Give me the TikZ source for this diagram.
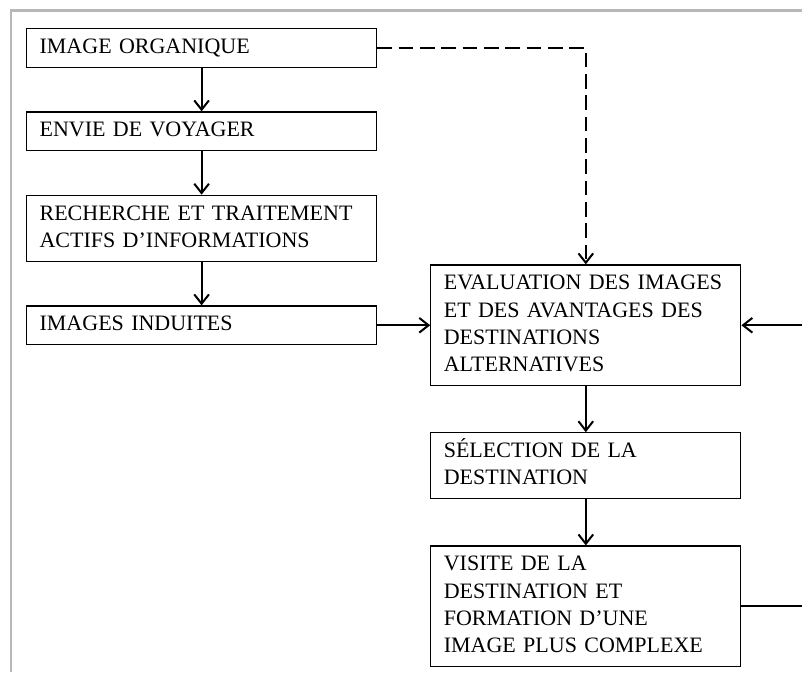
\documentclass[tikz,border=0pt]{standalone}
\usepackage{fontspec}
\setmainfont{Liberation Serif}
\usetikzlibrary{positioning, arrows.meta}
\definecolor{gris}{RGB}{185,182,182}

\begin{document}
\begin{tikzpicture}[
x=0.75pt, y=-0.75pt,
node distance=32.6pt and 39.75pt,
bloc/.style={rectangle, draw=black, line width=0.9pt, inner xsep=9.75pt, inner ysep=4.25pt, align=left, font=\fontsize{16.5}{20.5}\selectfont, execute at begin node=\strut, execute at end node=\strut},
bloc_gauche/.style={bloc, text width=243pt},
bloc_droit/.style={bloc, text width=213pt},
fleche/.style={-{Straight Barb[length=7pt, width=11pt]}, line width=1.5pt},
]
\useasboundingbox (0,0) rectangle (802,672);
\clip (0,0) rectangle (802,672);
\draw[gris, line width=2pt] (11,672) -- (11,10.5) -- (802,10.5);

%Nodes
\node[bloc_gauche, anchor=north west] (image_organique)  at (26,28)  {IMAGE ORGANIQUE};
\node[bloc_gauche]     (envie_voyager)    [below=of image_organique] {ENVIE DE VOYAGER};
\node[bloc_gauche]     (recherche)        [below=of envie_voyager]   {RECHERCHE ET TRAITEMENT\\ACTIFS D’INFORMATIONS};
\node[bloc_gauche]     (images_induites)  [below=of recherche]       {IMAGES INDUITES};

\node[bloc_droit]      (evaluation)       [right=of images_induites] {EVALUATION DES IMAGES\\ET DES AVANTAGES DES\\DESTINATIONS\\ALTERNATIVES};
\node[bloc_droit]      (selection)        [below=34.5pt of evaluation] {SÉLECTION DE LA\\DESTINATION};
\node[bloc_droit]      (visite)           [below=34.5pt of selection]  {VISITE DE LA\\DESTINATION ET\\FORMATION D’UNE\\IMAGE PLUS COMPLEXE};

\coordinate (bord) at (812,0);

%Lines
\draw[fleche] (image_organique) -- (envie_voyager);
\draw[fleche] (envie_voyager) -- (recherche);
\draw[fleche] (recherche) -- (images_induites);
\draw[fleche, dash pattern=on 11pt off 5pt] (image_organique.east) -| (evaluation.north);
\draw[fleche] (images_induites) -- (evaluation);
\draw[fleche] (evaluation) -- (selection);
\draw[fleche] (selection) -- (visite);
\draw[fleche] (visite.east) -- (visite.east -| bord) |- (evaluation.east);

\end{tikzpicture}
\end{document}
